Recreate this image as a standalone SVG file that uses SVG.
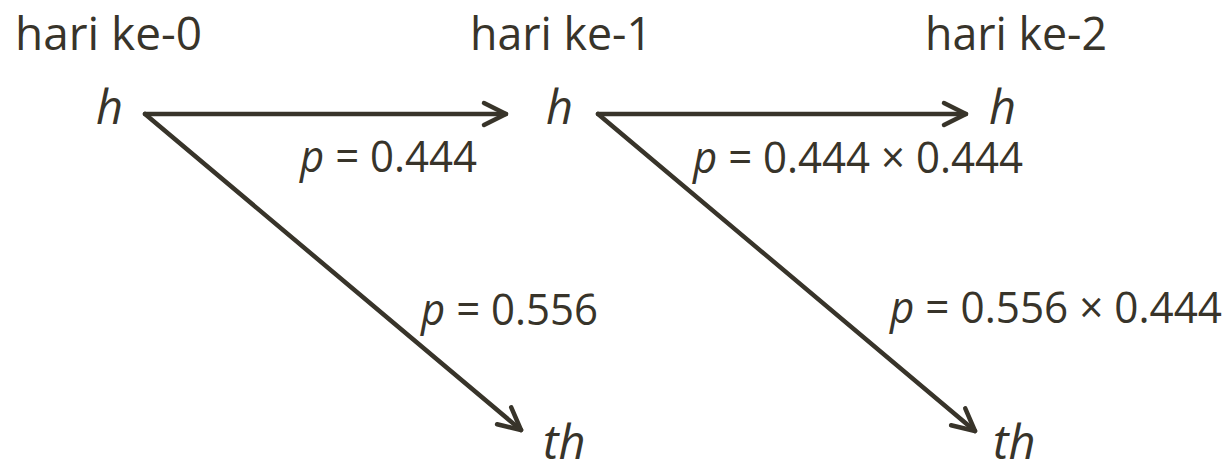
<svg xmlns="http://www.w3.org/2000/svg" width="1228" height="466" viewBox="0 0 1228 466">
<defs>
<style>
text{font-family:"Open Sans","Liberation Sans",sans-serif;fill:#38342a}
.hd{font-size:46px}
.nd{font-size:47px;font-style:italic}
.lb{font-size:43px}
.lb tspan.i{font-style:italic}
.ln{stroke:#38342a;stroke-width:4.5;fill:none;stroke-linecap:round;stroke-linejoin:round}
</style>
<marker id="ah" viewBox="-7 -6 8 12" refX="0" refY="0" markerWidth="8" markerHeight="12" markerUnits="userSpaceOnUse" orient="auto" overflow="visible">
<path d="M-22,-11 L0,0 L-22,11" fill="none" stroke="#38342a" stroke-width="4.5" stroke-linecap="round" stroke-linejoin="round"/>
</marker>
</defs>
<rect width="1228" height="466" fill="#ffffff"/>
<g id="headers">
<text class="hd" x="15" y="50" textLength="187" lengthAdjust="spacingAndGlyphs">hari ke-0</text>
<text class="hd" x="470" y="50" textLength="182" lengthAdjust="spacingAndGlyphs">hari ke-1</text>
<text class="hd" x="925" y="50" textLength="182" lengthAdjust="spacingAndGlyphs">hari ke-2</text>
</g>
<g id="connectors">
<line class="ln" x1="145" y1="114" x2="506" y2="114" marker-end="url(#ah)"/>
<line class="ln" x1="145" y1="114" x2="521" y2="430" marker-end="url(#ah)"/>
<line class="ln" x1="598" y1="114" x2="966" y2="114" marker-end="url(#ah)"/>
<line class="ln" x1="598" y1="114" x2="975" y2="431" marker-end="url(#ah)"/>
</g>
<g id="node-h0"><text class="nd" x="96" y="124">h</text></g>
<g id="node-h1"><text class="nd" x="546" y="124">h</text></g>
<g id="node-h2"><text class="nd" x="989" y="124">h</text></g>
<g id="node-th1"><text class="nd" x="543" y="459">th</text></g>
<g id="node-th2"><text class="nd" x="993" y="459">th</text></g>
<g id="labels">
<text class="lb" x="300" y="172" textLength="177" lengthAdjust="spacingAndGlyphs"><tspan class="i">p</tspan> = 0.444</text>
<text class="lb" x="421" y="325" textLength="177" lengthAdjust="spacingAndGlyphs"><tspan class="i">p</tspan> = 0.556</text>
<text class="lb" x="693" y="173" textLength="330" lengthAdjust="spacingAndGlyphs"><tspan class="i">p</tspan> = 0.444 × 0.444</text>
<text class="lb" x="890" y="323" textLength="332" lengthAdjust="spacingAndGlyphs"><tspan class="i">p</tspan> = 0.556 × 0.444</text>
</g>
</svg>
